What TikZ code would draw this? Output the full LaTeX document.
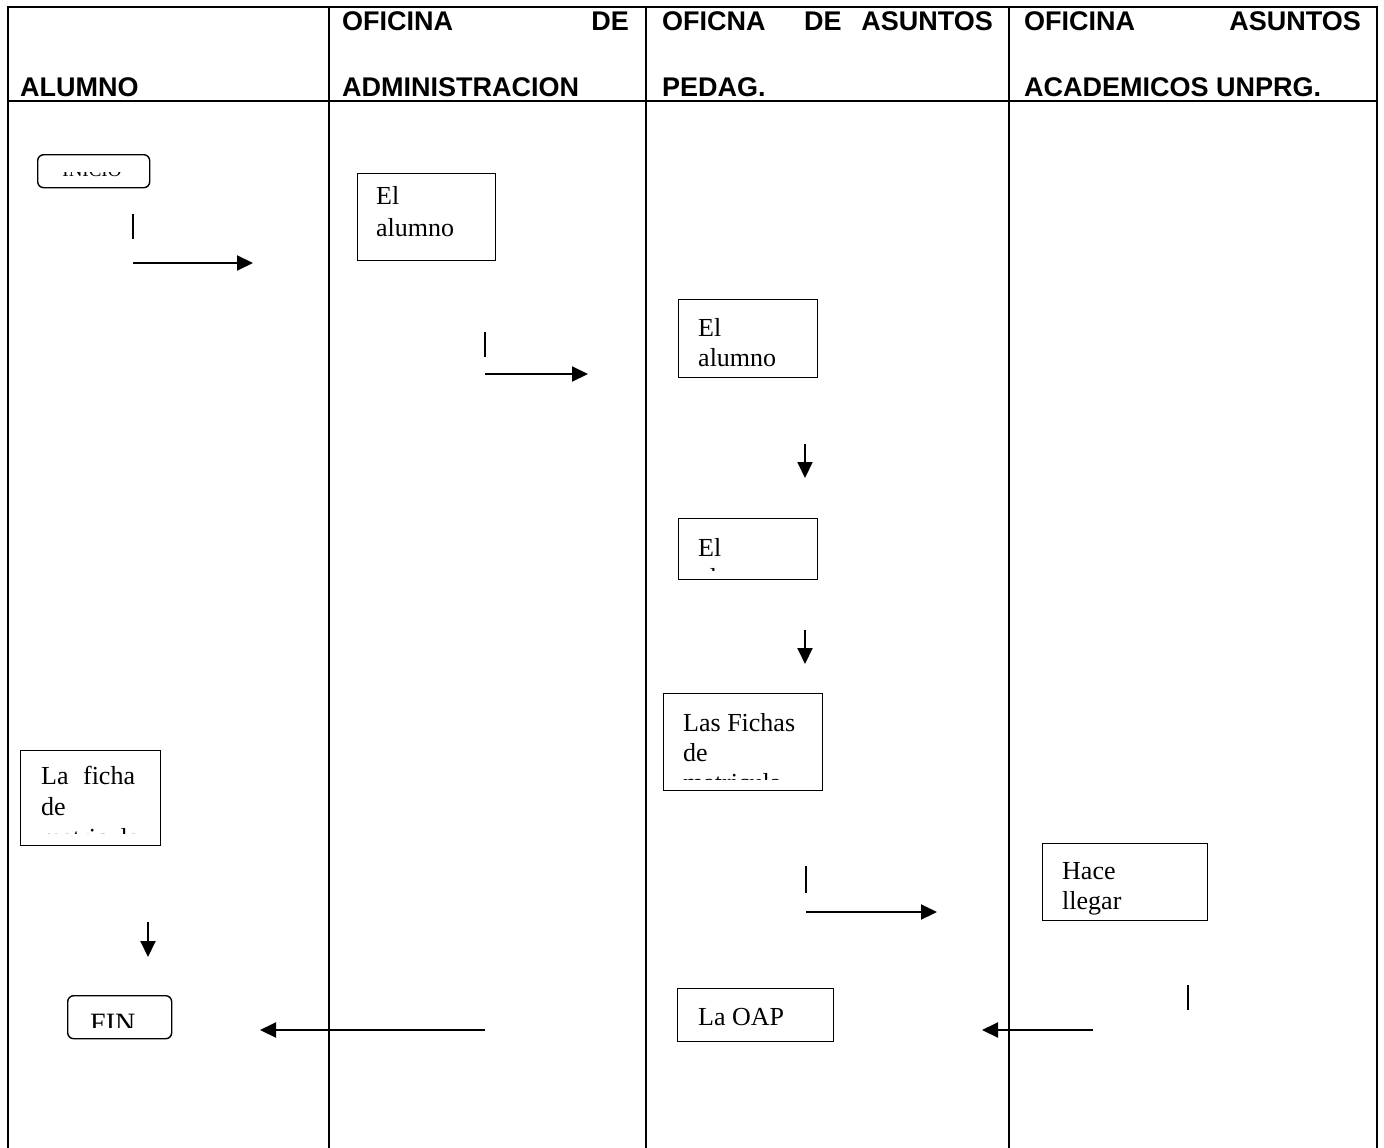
\documentclass[tikz,border=0pt]{standalone}
\usepackage{fontspec}
\setmainfont{Liberation Serif}
\newfontfamily\hdrfont{Liberation Sans}
\usetikzlibrary{arrows.meta}
\begin{document}
\begin{tikzpicture}[x=1pt,y=-1pt,
  tbl/.style={line width=2pt},
  boxnode/.style={draw, line width=1.4pt, inner sep=0, anchor=north west},
  rbox/.style={boxnode, rounded corners=6pt},
  txt/.style={font=\fontsize{26}{30}\selectfont, anchor=base west, inner sep=0},
  hd/.style={font=\hdrfont\bfseries\fontsize{27}{30}\selectfont, anchor=base west, inner sep=0},
  hdr/.style={hd, anchor=base east},
  arr/.style={line width=2pt, -{Triangle[length=16pt,width=15pt]}},
  tickline/.style={line width=1.8pt}]
\useasboundingbox (0,0) rectangle (1384,1148);
% table
\draw[tbl] (8,1148) -- (8,7) -- (1377,7) -- (1377,1148);
\draw[tbl] (8,101) -- (1377,101);
\draw[tbl] (329,7) -- (329,1148);
\draw[tbl] (646,7) -- (646,1148);
\draw[tbl] (1009,7) -- (1009,1148);
% header
\node[hd] (h1) at (20,96) {ALUMNO};
\node[hd] (h2a) at (342,31) {OFICINA};
\node[hdr] (h2b) at (629,31) {DE};
\node[hd] (h2c) at (342,96) {ADMINISTRACION};
\node[hd] (h3a) at (662,31) {OFICNA};
\node[hd] (h3b) at (804,31) {DE};
\node[hdr] (h3c) at (993,31) {ASUNTOS};
\node[hd] (h3d) at (662,96) {PEDAG.};
\node[hd] (h4a) at (1024,31) {OFICINA};
\node[hdr] (h4b) at (1361,31) {ASUNTOS};
\node[hd] (h4c) at (1024,96) {ACADEMICOS UNPRG.};
% start box
\node[rbox, minimum width=112pt, minimum height=33pt] (inicio) at (37,154) {};
\begin{scope}
\clip (40,172.5) rectangle (146,176);
\node[txt, font=\fontsize{19}{22}\selectfont, anchor=base] (inicioT) at (92,176) {INICIO};
\end{scope}
% box El alumno (admin)
\node[boxnode, minimum width=138pt, minimum height=87pt] (b1) at (357,173) {};
\node[txt] (b1a) at (376,204) {El};
\node[txt] (b1b) at (376,236) {alumno};
% box El alumno (pedag)
\node[boxnode, minimum width=139pt, minimum height=78pt] (b2) at (678,299) {};
\node[txt] (b2a) at (698,336) {El};
\node[txt] (b2b) at (698,366) {alumno};
% box El (clipped)
\node[boxnode, minimum width=139pt, minimum height=61pt] (b3) at (678,518) {};
\node[txt] (b3a) at (698,556) {El};
\begin{scope}
\clip (680,520) rectangle (815,570);
\node[txt] (b3b) at (698,586) {alumno};
\end{scope}
% box Las Fichas
\node[boxnode, minimum width=159pt, minimum height=97pt] (b4) at (663,693) {};
\node[txt] (b4a) at (683,731) {Las Fichas};
\node[txt] (b4b) at (683,761) {de};
\begin{scope}
\clip (665,695) rectangle (820,779);
\node[txt] (b4c) at (683,791) {matricula};
\end{scope}
% box La ficha
\node[boxnode, minimum width=140pt, minimum height=95pt] (b5) at (20,750) {};
\node[txt] (b5a) at (41,784) {La\hspace{8pt} ficha};
\node[txt] (b5b) at (41,815) {de};
\begin{scope}
\clip (22,752) rectangle (158,833.5);
\node[txt] (b5c) at (41,846) {matricula};
\end{scope}
% box Hace llegar
\node[boxnode, minimum width=165pt, minimum height=77pt] (b6) at (1042,843) {};
\node[txt] (b6a) at (1062,879) {Hace};
\node[txt] (b6b) at (1062,909) {llegar};
% box La OAP
\node[boxnode, minimum width=156pt, minimum height=53pt] (b7) at (677,988) {};
\node[txt] (b7a) at (698,1025) {La OAP};
% FIN box
\node[rbox, minimum width=104pt, minimum height=43pt] (fin) at (67,995) {};
\begin{scope}
\clip (69,997) rectangle (169,1027);
\node[txt, font=\fontsize{28}{32}\selectfont] (finT) at (90,1032) {FIN};
\end{scope}
% connectors
\coordinate (t1a) at (133,214); \coordinate (t1b) at (133,239);
\coordinate (a1s) at (133,263); \coordinate (a1e) at (253,263);
\draw[tickline] (t1a) -- (t1b);
\draw[arr] (a1s) -- (a1e);
\coordinate (t2a) at (485,332); \coordinate (t2b) at (485,357);
\coordinate (a2s) at (485,374); \coordinate (a2e) at (588,374);
\draw[tickline] (t2a) -- (t2b);
\draw[arr] (a2s) -- (a2e);
\coordinate (a3s) at (805,444); \coordinate (a3e) at (805,478);
\draw[arr] (a3s) -- (a3e);
\coordinate (a4s) at (805,630); \coordinate (a4e) at (805,664);
\draw[arr] (a4s) -- (a4e);
\coordinate (t5a) at (806,866); \coordinate (t5b) at (806,893);
\coordinate (a5s) at (806,912); \coordinate (a5e) at (937,912);
\draw[tickline] (t5a) -- (t5b);
\draw[arr] (a5s) -- (a5e);
\coordinate (t6a) at (1188,985); \coordinate (t6b) at (1188,1010);
\coordinate (a6s) at (1093,1030); \coordinate (a6e) at (982,1030);
\draw[tickline] (t6a) -- (t6b);
\draw[arr] (a6s) -- (a6e);
\coordinate (a7s) at (485,1030); \coordinate (a7e) at (260,1030);
\draw[arr] (a7s) -- (a7e);
\coordinate (a8s) at (148,922); \coordinate (a8e) at (148,957);
\draw[arr] (a8s) -- (a8e);
\end{tikzpicture}
\end{document}
